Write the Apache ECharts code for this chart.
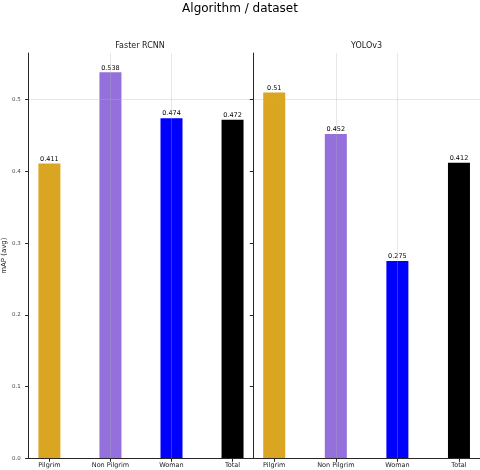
<!DOCTYPE html>
<html>
<head>
<meta charset="utf-8">
<script src="https://cdn.jsdelivr.net/npm/echarts@6/dist/echarts.min.js"></script>
<style>
html,body{margin:0;padding:0;background:#fff;}
#chart{width:480px;height:470px;}
</style>
</head>
<body>
<div id="chart"></div>
<script>
const categories = ['Pilgrim', 'Non Pilgrim', 'Woman', 'Total'];
const panels = ['Faster RCNN', 'YOLOv3'];
const fasterRcnn = [0.411, 0.538, 0.474, 0.472];
const yolov3 = [0.51, 0.452, 0.275, 0.412];
const barColors = ['#DAA520', '#9370DB', '#0000FF', '#000000'];
const yTicks = [0, 0.1, 0.2, 0.3, 0.4, 0.5];
const xTicks = [0, 1, 2, 3];

const FONT = 'DejaVu Sans';
const gridTop = 53, gridBottom = 11.7, gridW = 226.6;
const lefts = [26.7, 253.3];
const yMax = 0.565;
const gridColor = 'rgba(176,176,176,0.3)';
const axisColor = '#262626';

const seriesValues = [fasterRcnn, yolov3];

const grids = lefts.map(l => ({left: l, width: gridW, top: gridTop, bottom: gridBottom, containLabel: false}));

const xAxes = lefts.map((l, gi) => ({
  gridIndex: gi,
  type: 'value',
  min: -0.34, max: 3.34, interval: 1,
  z: 3,
  axisLine: {show: true, onZero: false, lineStyle: {color: axisColor, width: 1}},
  axisTick: {show: true, length: 3.5, customValues: xTicks, lineStyle: {color: axisColor}},
  axisLabel: {show: true, customValues: xTicks, margin: 4, fontSize: 6.5, fontFamily: FONT, color: '#1a1a1a',
    formatter: v => Number.isInteger(v) ? categories[v] : ''},
  splitLine: {show: true, showMinLine: false, showMaxLine: false, lineStyle: {color: gridColor, width: 1}}
}));

const ySplitColors = ['rgba(0,0,0,0)','rgba(0,0,0,0)','rgba(0,0,0,0)','rgba(0,0,0,0)','rgba(0,0,0,0)', gridColor, 'rgba(0,0,0,0)'];

const yAxes = lefts.map((l, gi) => ({
  gridIndex: gi,
  type: 'value',
  min: 0, max: yMax, interval: 0.1,
  z: 3,
  name: gi === 0 ? 'mAP (avg)' : '',
  nameLocation: 'middle',
  nameGap: 19,
  nameTextStyle: {fontSize: 7, fontFamily: FONT, color: '#1a1a1a'},
  axisLine: {show: true, onZero: false, lineStyle: {color: axisColor, width: 1}},
  axisTick: {show: true, length: 3.5, customValues: yTicks, lineStyle: {color: axisColor}},
  axisLabel: {show: gi === 0, customValues: yTicks, margin: 8, fontSize: 5.5, fontFamily: FONT, color: '#444',
    formatter: v => v.toFixed(1)},
  splitLine: {show: true, lineStyle: {color: ySplitColors, width: 1}}
}));

const series = seriesValues.map((vals, gi) => ({
  type: 'bar',
  xAxisIndex: gi, yAxisIndex: gi,
  barWidth: 22,
  data: vals.map((v, i) => ({value: [i, v], itemStyle: {color: barColors[i]}})),
  label: {show: true, position: 'top', distance: 1, fontSize: 6.5, fontFamily: FONT, color: '#000',
    formatter: p => String(p.value[1])},
  animation: false
}));

const graphics = panels.map((name, gi) => ({
  type: 'text',
  x: lefts[gi] + gridW / 2,
  y: 46,
  style: {text: name, fontSize: 8, fontFamily: FONT, fill: '#1a1a1a', textAlign: 'center', textVerticalAlign: 'middle'}
}));

const chart = echarts.init(document.getElementById('chart'), null, {renderer: 'canvas'});
chart.setOption({
  animation: false,
  backgroundColor: '#fff',
  title: {text: 'Algorithm / dataset', left: 'center', top: -2,
    textStyle: {fontSize: 12, fontWeight: 'normal', fontFamily: FONT, color: '#000'}},
  grid: grids,
  xAxis: xAxes,
  yAxis: yAxes,
  series: series,
  graphic: graphics
});
</script>
</body>
</html>
